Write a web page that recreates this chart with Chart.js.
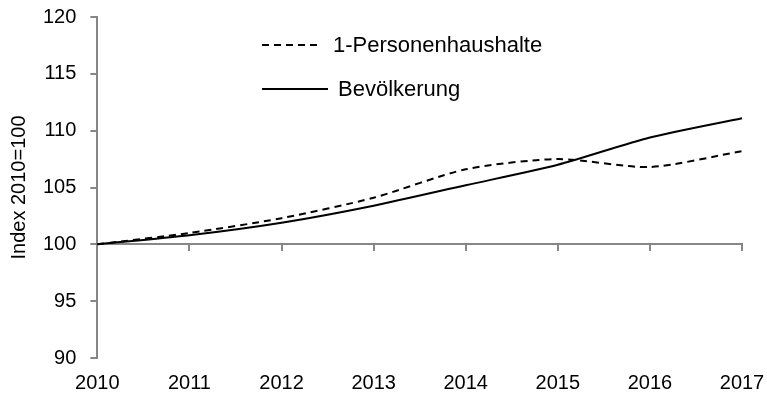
<!DOCTYPE html>
<html>
<head>
<meta charset="utf-8">
<script src="https://cdn.jsdelivr.net/npm/chart.js@4.4.1/dist/chart.umd.min.js"></script>
<style>
    html, body { margin: 0; padding: 0; background: #fff; }
    #wrap { width: 767px; height: 408px; }
</style>
</head>
<body>
<div id="wrap"><canvas id="chart" width="767" height="408"></canvas></div>
<script>

const years = ['2010', '2011', '2012', '2013', '2014', '2015', '2016', '2017'];
const einPersonenHH = [100, 101.0, 102.3, 104.1, 106.6, 107.5, 106.8, 108.2];
const bevoelkerung = [100, 100.8, 101.9, 103.4, 105.2, 107.0, 109.4, 111.1];
const yTicks = [90, 95, 100, 105, 110, 115, 120];

const AXIS_GREY = '#878787';
const FONT = { family: 'Liberation Sans', size: 20 };
const LEGEND_FONT = '22px "Liberation Sans"';

// the outer margins are set by layout.padding only
function noEdgePadding(axis) {
    axis.paddingTop = 0;
    axis.paddingBottom = 0;
    axis.paddingLeft = 0;
    axis.paddingRight = 0;
}

// legend drawn inside the plot, top middle
const innerLegend = {
    id: 'innerLegend',
    afterDraw(chart) {
        const c = chart.ctx;
        const rows = [
            { x0: 262, x1: 322, y: 45, tx: 333 },
            { x0: 262, x1: 328, y: 89, tx: 338 }
        ];
        chart.data.datasets.forEach(function (ds, i) {
            const r = rows[i];
            c.save();
            c.strokeStyle = ds.borderColor;
            c.lineWidth = ds.borderWidth;
            c.setLineDash(ds.borderDash || []);
            c.beginPath();
            c.moveTo(r.x0, r.y);
            c.lineTo(r.x1, r.y);
            c.stroke();
            c.setLineDash([]);
            c.fillStyle = '#000';
            c.font = LEGEND_FONT;
            c.textBaseline = 'middle';
            c.fillText(ds.label, r.tx, r.y + 1);
            c.restore();
        });
    }
};

new Chart(document.getElementById('chart'), {
    type: 'line',
    data: {
        labels: years,
        datasets: [
            {
                label: '1-Personenhaushalte',
                data: einPersonenHH,
                borderColor: '#000',
                borderWidth: 2,
                borderDash: [7, 5],
                tension: 0.25,
                pointRadius: 0
            },
            {
                label: 'Bevölkerung',
                data: bevoelkerung,
                borderColor: '#000',
                borderWidth: 2,
                tension: 0.25,
                pointRadius: 0
            }
        ]
    },
    options: {
        responsive: false,
        animation: false,
        layout: {
            padding: { top: 17, right: 25, bottom: 0, left: 9 }
        },
        plugins: {
            legend: { display: false },
            tooltip: { enabled: false }
        },
        scales: {
            x: {
                offset: false,
                position: 'bottom',
                grid: { display: false, drawTicks: false },
                border: { display: false },
                ticks: { color: '#000', font: FONT, padding: 13, maxRotation: 0 },
                afterFit: noEdgePadding
            },
            xLine: {
                type: 'category',
                offset: false,
                position: { y: 100 },
                grid: { drawOnChartArea: false, drawTicks: true, tickLength: 6, color: AXIS_GREY, lineWidth: 2 },
                border: { color: AXIS_GREY, width: 2 },
                ticks: { display: false },
                afterFit: noEdgePadding
            },
            y: {
                min: 90,
                max: 120,
                afterBuildTicks: function (axis) {
                    axis.ticks = yTicks.map(function (v) { return { value: v }; });
                },
                afterFit: noEdgePadding,
                grid: { drawOnChartArea: false, tickLength: 7, color: AXIS_GREY, lineWidth: 2 },
                border: { color: AXIS_GREY, width: 2 },
                ticks: { color: '#000', font: FONT, padding: 14 },
                title: {
                    display: true,
                    text: 'Index 2010=100',
                    color: '#000',
                    font: { family: FONT.family, size: FONT.size, lineHeight: 1 },
                    padding: { top: 0, bottom: 0 }
                }
            }
        }
    },
    plugins: [innerLegend]
});
</script>
</body>
</html>
